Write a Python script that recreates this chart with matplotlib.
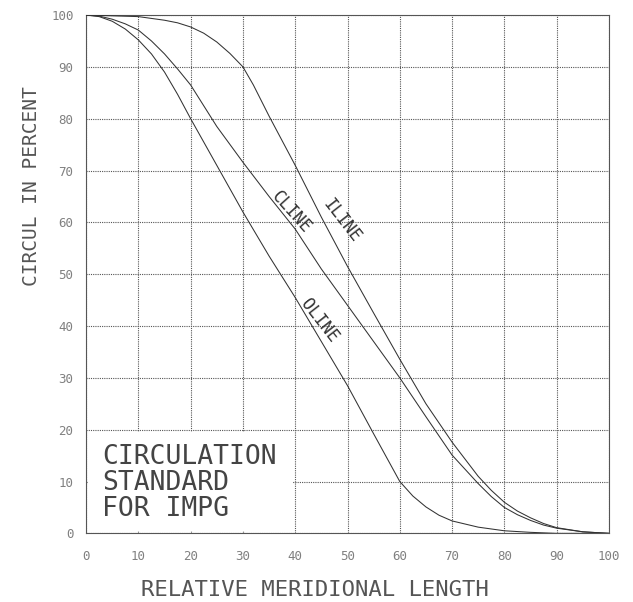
import numpy as np
import matplotlib.pyplot as plt
from matplotlib.patches import Rectangle

# values
oline_x = [0, 2.5, 5, 7.5, 10, 12.5, 15, 17.5, 20, 25, 30, 35, 40, 45, 50, 55, 60,
           62.5, 65, 67.5, 70, 75, 80, 85, 90, 100]
oline_y = [100, 99.7, 98.8, 97.3, 95.2, 92.5, 89, 84.7, 80, 71, 62, 53.5, 45.5, 37, 28.5, 19.2, 10,
           7.2, 5.1, 3.5, 2.4, 1.2, 0.5, 0.2, 0, 0]

cline_x = [0, 2.5, 5, 7.5, 10, 12.5, 15, 17.5, 20, 25, 30, 35, 40, 45, 50, 55, 60, 65, 70,
           75, 77.5, 80, 82.5, 85, 87.5, 90, 95, 100]
cline_y = [100, 99.8, 99.2, 98.3, 97.1, 95, 92.5, 89.6, 86.5, 78.5, 71.6, 65, 58.7, 51, 44, 37, 30, 22.5, 15.1,
           9.6, 7.1, 5, 3.6, 2.5, 1.6, 1, 0.3, 0]

iline_x = [0, 10, 15, 17.5, 20, 22.5, 25, 27.5, 30, 32, 35, 40, 45, 50, 55, 60, 65, 70,
           75, 77.5, 80, 82.5, 85, 87.5, 90, 95, 100]
iline_y = [100, 99.7, 99, 98.5, 97.7, 96.5, 94.8, 92.6, 90, 86.5, 80.5, 71, 61, 51.5, 42.5, 33.6, 25, 17.6,
           11, 8.3, 6, 4.3, 3, 1.9, 1.1, 0.3, 0]

ticks = list(range(0, 101, 10))
curve_labels = ["ILINE", "CLINE", "OLINE"]
label_pos = [(48.9, 60.4), (39.3, 61.9), (44.6, 41.1)]
label_rot = [-52, -48, -52]

plt.rcParams['font.family'] = ['DejaVu Sans Mono']

fig = plt.figure(figsize=(6.33, 6.02), dpi=100)
ax = fig.add_axes([0.136, 0.114, 0.826, 0.861])

dot = (0, (1, 1))
for xs, ys in [(oline_x, oline_y), (cline_x, cline_y), (iline_x, iline_y)]:
    ax.plot(xs, ys, color='#333333', lw=0.75, zorder=3)

ax.set_xlim(0, 100)
ax.set_ylim(0, 100)
ax.set_xticks(ticks)
ax.set_yticks(ticks)
ax.set_axisbelow(True)
ax.grid(True, color='#555555', lw=0.8, linestyle=dot)
ax.tick_params(length=0, labelsize=9, labelcolor='#808080')
ax.tick_params(axis='x', pad=12)
ax.tick_params(axis='y', pad=9)
for sp in ax.spines.values():
    sp.set_linestyle(dot)
    sp.set_color('#555555')
    sp.set_linewidth(0.8)

# white panel over the grid behind the title block
ax.add_patch(Rectangle((0.4, 0.4), 39.2, 19.2, facecolor='white', edgecolor='none', zorder=1))
ax.text(3, 17.2, "CIRCULATION\nSTANDARD\nFOR IMPG", fontsize=19, color='#444444',
        va='top', ha='left', linespacing=1.0, zorder=4)

for lab, (lx, ly), rot in zip(curve_labels, label_pos, label_rot):
    ax.text(lx, ly, lab, fontsize=12, color='#333333', rotation=rot,
            ha='center', va='center', rotation_mode='anchor', zorder=4)

fig.text(315 / 633, 1 - 590 / 602, "RELATIVE MERIDIONAL LENGTH", fontsize=16,
         color='#555555', ha='center', va='center')
fig.text(32 / 633, 1 - 186 / 602, "CIRCUL IN PERCENT", fontsize=14,
         color='#555555', ha='center', va='center', rotation=90)

fig.savefig('out.png', dpi=100)
